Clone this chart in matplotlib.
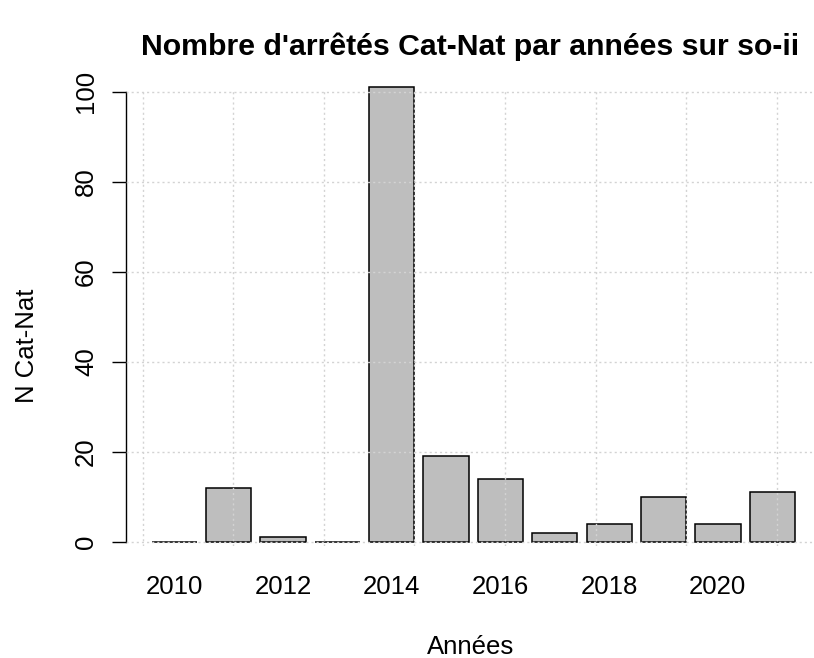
import numpy as np
import matplotlib
matplotlib.use('Agg')
import matplotlib.pyplot as plt

plt.rcParams['font.family'] = ['Liberation Sans', 'DejaVu Sans']

years = [2010, 2011, 2012, 2013, 2014, 2015, 2016, 2017, 2018, 2019, 2020, 2021]
counts = [0, 12, 1, 0, 101, 19, 14, 2, 4, 10, 4, 11]
y_ticks = [0, 20, 40, 60, 80, 100]

title = "Nombre d'arrêtés Cat-Nat par années sur so-ii"
xlab = "Années"
ylab = "N Cat-Nat"

# R barplot layout: width 1, space 0.2
centers = 0.7 + 1.2 * np.arange(len(years))
year_labels = [str(y) if y % 2 == 0 else '' for y in years]

fig = plt.figure(figsize=(8.14, 6.58), dpi=100)
ax = fig.add_axes([0.1548, 0.1702, 0.8533, 0.6930])

ax.bar(centers, counts, width=1.0, color='#BEBEBE', edgecolor='black',
       linewidth=1.1, clip_on=False, zorder=1)

ax.set_xlim(-0.368, 14.968)
ax.set_ylim(-0.9, 100.4)

# grid (drawn over the bars, like R's grid())
ax.set_xticks(np.arange(0, 15, 2))
ax.set_xticklabels([])
ax.tick_params(axis='x', which='major', length=0)
ax.set_xticks(centers, year_labels, minor=True)
ax.tick_params(axis='x', which='minor', length=0, pad=21, labelsize=18.5)
ax.set_yticks(y_ticks)
ax.tick_params(axis='y', length=10, width=1.0, pad=10, labelsize=18.5)
for lab in ax.get_yticklabels():
    lab.set_rotation(90)
    lab.set_va('center')

ax.set_axisbelow(False)
ax.grid(True, which='major', color='#D3D3D3', linestyle=(0, (1.5, 2.2)), linewidth=1.0)

for s in ['top', 'right', 'bottom']:
    ax.spines[s].set_visible(False)
ax.spines['left'].set_bounds(0, 100)
ax.spines['left'].set_linewidth(1.0)

fig.text(0.578, 0.917, title, ha='center', va='baseline', fontsize=21.8, fontweight='bold')
fig.text(0.578, 0.006, xlab, ha='center', va='baseline', fontsize=18.5)
fig.text(0.033, 0.474, ylab, ha='center', va='center', rotation=90, fontsize=18.5)

fig.savefig('out.png', dpi=100)
